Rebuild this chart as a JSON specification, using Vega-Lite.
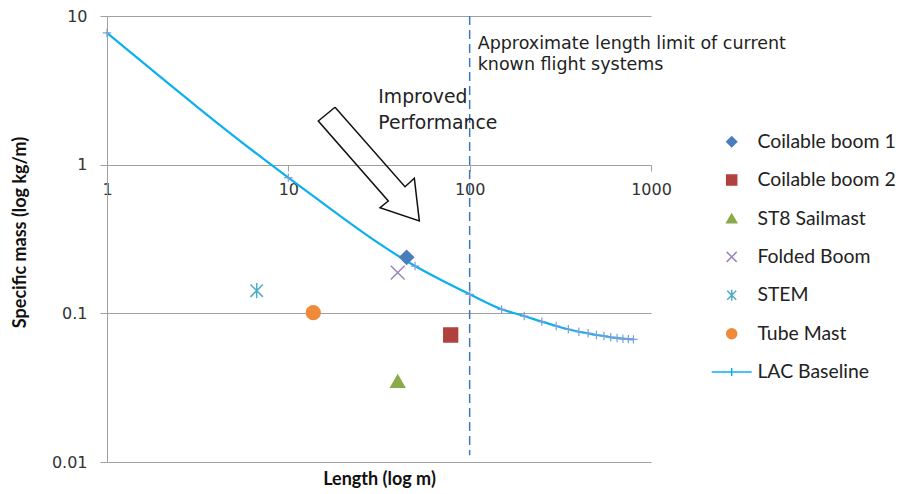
{
  "$schema": "https://vega.github.io/schema/vega-lite/v6.json",
  "width": 544,
  "height": 446,
  "autosize": {"type": "none"},
  "padding": {"left": 107, "top": 16, "right": 247, "bottom": 32},
  "background": "white",
  "config": {
    "view": {"stroke": null},
    "legend": {
      "labelFont": "Lato",
      "labelFontSize": 19.4,
      "labelColor": "#222222",
      "symbolSize": 100,
      "symbolStrokeWidth": 1.5,
      "symbolOpacity": 1,
      "rowPadding": 17.4,
      "labelOffset": 16,
      "padding": 0
    }
  },
  "datasets": {
    "booms": [
      {"series": "Coilable boom 1", "length": 44.9, "mass": 0.238},
      {"series": "Coilable boom 2", "length": 78.6, "mass": 0.0715},
      {"series": "ST8 Sailmast", "length": 40.1, "mass": 0.0349},
      {"series": "Folded Boom", "length": 40.1, "mass": 0.1877},
      {"series": "STEM", "length": 6.69, "mass": 0.142},
      {"series": "Tube Mast", "length": 13.73, "mass": 0.101}
    ],
    "lac": [
      {"length": 1, "mass": 7.69},
      {"length": 10, "mass": 0.818},
      {"length": 50, "mass": 0.208},
      {"length": 100, "mass": 0.1343},
      {"length": 150, "mass": 0.1064},
      {"length": 200, "mass": 0.0959},
      {"length": 250, "mass": 0.0879},
      {"length": 300, "mass": 0.0822},
      {"length": 350, "mass": 0.0781},
      {"length": 400, "mass": 0.0752},
      {"length": 450, "mass": 0.0734},
      {"length": 500, "mass": 0.0715},
      {"length": 550, "mass": 0.0704},
      {"length": 600, "mass": 0.069},
      {"length": 650, "mass": 0.0683},
      {"length": 700, "mass": 0.0675},
      {"length": 750, "mass": 0.067},
      {"length": 800, "mass": 0.0668}
    ],
    "limit": [
      {"length": 100, "mass": 10, "mass2": 0.0111}
    ],
    "arrow": [
      {"i": 1, "length": 18.09, "mass": 2.432},
      {"i": 2, "length": 14.63, "mass": 1.967},
      {"i": 3, "length": 35.59, "mass": 0.5695},
      {"i": 4, "length": 32.03, "mass": 0.5137},
      {"i": 5, "length": 52.77, "mass": 0.418},
      {"i": 6, "length": 49.53, "mass": 0.8095},
      {"i": 7, "length": 43.99, "mass": 0.7108},
      {"i": 8, "length": 18.09, "mass": 2.432}
    ],
    "limitNote": [
      {"length": 100, "mass": 6.0, "label": "Approximate length limit of current\nknown flight systems"}
    ],
    "perfNote": [
      {"length": 31.35, "mass": 2.61, "label": "Improved\nPerformance"}
    ]
  },
  "encoding": {
    "x": {
      "field": "length", "type": "quantitative",
      "scale": {"type": "log", "domain": [1, 1000], "nice": false},
      "axis": {
        "title": "Length (log m)",
        "values": [1, 10, 100, 1000],
        "format": "~g",
        "offset": -297,
        "grid": false,
        "domainColor": "#A0A0A0",
        "tickColor": "#A0A0A0",
        "tickSize": 6,
        "labelFont": "DejaVu Sans",
        "labelFontSize": 16,
        "labelColor": "#333333",
        "labelPadding": 10,
        "labelFlush": false,
        "titleFont": "Lato",
        "titleFontWeight": "bold",
        "titleFontSize": 18,
        "titleColor": "#111111",
        "titleY": 314,
        "titleBaseline": "middle"
      }
    },
    "y": {
      "field": "mass", "type": "quantitative",
      "scale": {"type": "log", "domain": [0.01, 10], "nice": false},
      "axis": {
        "title": "Specific mass (log kg/m)",
        "values": [0.01, 0.1, 1, 10],
        "format": "~g",
        "grid": true,
        "gridColor": "#A0A0A0",
        "gridWidth": 1,
        "domainColor": "#A0A0A0",
        "tickColor": "#A0A0A0",
        "tickSize": 7,
        "labelFont": "DejaVu Sans",
        "labelFontSize": 16,
        "labelColor": "#333333",
        "labelPadding": 13,
        "labelFlush": false,
        "titleFont": "Lato",
        "titleFontWeight": "bold",
        "titleFontSize": 18,
        "titleColor": "#111111",
        "titleX": -87,
        "titleY": 216,
        "titleAngle": -90,
        "titleAlign": "center",
        "titleBaseline": "middle"
      }
    }
  },
  "layer": [
    {
      "data": {"name": "limit"},
      "mark": {"type": "rule", "stroke": "#3A78C6", "strokeWidth": 1.5, "strokeDash": [9, 5]},
      "encoding": {
        "y2": {"field": "mass2"}
      }
    },
    {
      "data": {"name": "arrow"},
      "mark": {"type": "line", "stroke": "#111111", "strokeWidth": 1.5, "strokeJoin": "miter"},
      "encoding": {
        "order": {"field": "i", "type": "quantitative"}
      }
    },
    {
      "data": {"name": "limitNote"},
      "mark": {"type": "text", "align": "left", "baseline": "alphabetic", "dx": 8, "font": "DejaVu Sans", "fontSize": 17.5, "lineHeight": 21, "lineBreak": "\n", "color": "#222222"},
      "encoding": {
        "text": {"field": "label"}
      }
    },
    {
      "data": {"name": "perfNote"},
      "mark": {"type": "text", "align": "left", "baseline": "alphabetic", "font": "DejaVu Sans", "fontSize": 18.8, "lineHeight": 26, "lineBreak": "\n", "color": "#222222"},
      "encoding": {
        "text": {"field": "label"}
      }
    },
    {
      "data": {"name": "lac"},
      "mark": {"type": "line", "stroke": "#0CB0F0", "strokeWidth": 2.2, "interpolate": "monotone"},
      "encoding": {}
    },
    {
      "data": {"name": "lac"},
      "mark": {"type": "point", "shape": "M-1,0H1M0,-1V1", "size": 70, "stroke": "#7E9ED8", "strokeWidth": 1.2, "filled": false, "opacity": 1},
      "encoding": {}
    },
    {
      "data": {"name": "booms"},
      "mark": {"type": "point", "filled": true, "size": 190, "strokeWidth": 1.5, "opacity": 1},
      "encoding": {
        "fill": {
          "field": "series", "type": "nominal",
          "scale": {
            "domain": ["Coilable boom 1", "Coilable boom 2", "ST8 Sailmast", "Folded Boom", "STEM", "Tube Mast", "LAC Baseline"],
            "range": ["#4A7EBB", "#B0413E", "#8AAA4B", "#9A86BA", "#4BACC6", "#F08A3A", "#0CB0F0"]
          },
          "legend": {"title": null, "orient": "none", "legendX": 615, "legendY": 116}
        },
        "stroke": {
          "field": "series", "type": "nominal",
          "scale": {
            "domain": ["Coilable boom 1", "Coilable boom 2", "ST8 Sailmast", "Folded Boom", "STEM", "Tube Mast", "LAC Baseline"],
            "range": ["#4A7EBB", "#B0413E", "#8AAA4B", "#9A86BA", "#4BACC6", "#F08A3A", "#0CB0F0"]
          },
          "legend": {"title": null, "orient": "none", "legendX": 615, "legendY": 116}
        },
        "shape": {
          "field": "series", "type": "nominal",
          "scale": {
            "domain": ["Coilable boom 1", "Coilable boom 2", "ST8 Sailmast", "Folded Boom", "STEM", "Tube Mast", "LAC Baseline"],
            "range": ["diamond", "square", "triangle-up", "M-1,-1L1,1M-1,1L1,-1", "M-0.9,-0.9L0.9,0.9M-0.9,0.9L0.9,-0.9M0,-1.1V1.1", "circle", "M-4,0H4M0,-0.8V0.8"]
          },
          "legend": {"title": null, "orient": "none", "legendX": 615, "legendY": 116}
        }
      }
    }
  ]
}
